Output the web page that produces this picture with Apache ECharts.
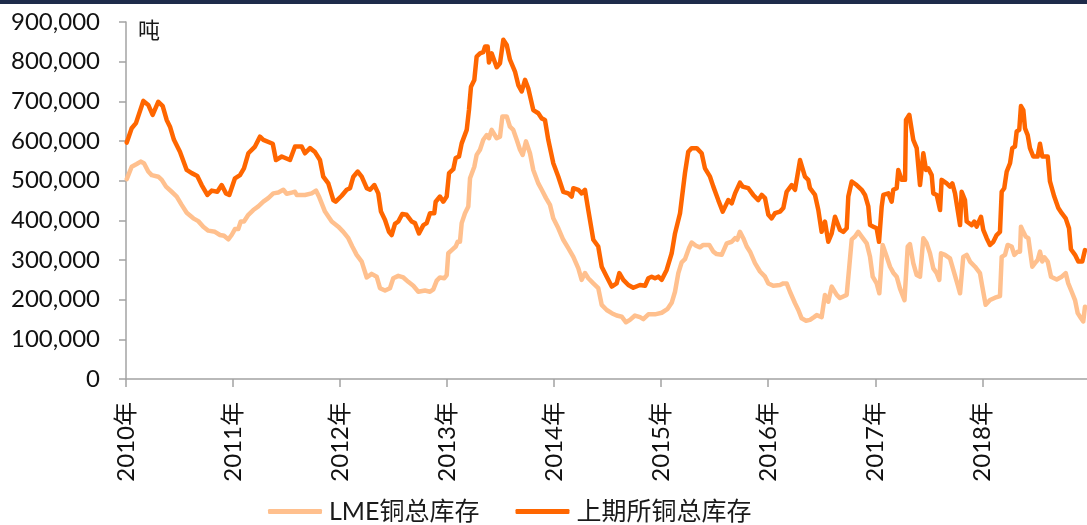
<!DOCTYPE html>
<html>
<head>
<meta charset="utf-8">
<script src="https://cdn.jsdelivr.net/npm/echarts@6/dist/echarts.min.js"></script>
<style>
  html, body { margin: 0; padding: 0; background: #fff; }
  #chart { width: 1087px; height: 525px; }
</style>
</head>
<body>
<div id="chart"></div>
<script>
// Copper inventories, tonnes. X values are decimal years.
const seriesNames = ['LME铜总库存', '上期所铜总库存'];
const yearTicks = [2010, 2011, 2012, 2013, 2014, 2015, 2016, 2017, 2018];
const unitLabel = '吨';

const lmeStock = [
  [2010.007,504000],[2010.053,535000],[2010.100,542000],[2010.137,548000],[2010.168,544000],[2010.208,523000],[2010.240,514000],[2010.302,510000],[2010.334,502000],[2010.374,485000],[2010.427,472000],[2010.474,460000],[2010.520,439000],[2010.567,419000],[2010.629,405000],[2010.675,398000],[2010.722,384000],[2010.769,374000],[2010.831,371000],[2010.878,363000],[2010.916,361000],[2010.956,352000],[2010.987,363000],
  [2011.018,378000],[2011.049,378000],[2011.072,397000],[2011.102,397000],[2011.143,414000],[2011.189,426000],[2011.236,435000],[2011.283,447000],[2011.329,456000],[2011.376,468000],[2011.423,470000],[2011.470,477000],[2011.501,467000],[2011.548,470000],[2011.579,472000],[2011.595,464000],[2011.672,464000],[2011.735,468000],[2011.775,475000],[2011.806,458000],[2011.859,422000],[2011.922,397000],[2011.983,384000],
  [2012.030,371000],[2012.077,355000],[2012.114,334000],[2012.155,313000],[2012.202,296000],[2012.249,256000],[2012.295,265000],[2012.342,258000],[2012.373,229000],[2012.420,223000],[2012.466,229000],[2012.497,254000],[2012.544,260000],[2012.591,256000],[2012.637,245000],[2012.684,235000],[2012.731,220000],[2012.793,223000],[2012.840,220000],[2012.871,226000],[2012.903,248000],[2012.933,256000],[2012.974,254000],[2012.996,262000],
  [2013.011,317000],[2013.043,325000],[2013.080,334000],[2013.099,346000],[2013.120,346000],[2013.136,393000],[2013.167,418000],[2013.198,435000],[2013.214,506000],[2013.254,535000],[2013.276,565000],[2013.307,578000],[2013.338,603000],[2013.370,615000],[2013.391,607000],[2013.416,628000],[2013.463,607000],[2013.494,611000],[2013.516,662000],[2013.557,662000],[2013.587,636000],[2013.618,628000],[2013.650,603000],[2013.681,578000],[2013.706,565000],[2013.737,599000],[2013.774,569000],[2013.805,527000],[2013.852,493000],[2013.884,477000],[2013.924,456000],[2013.961,439000],[2013.992,405000],
  [2014.039,380000],[2014.085,351000],[2014.132,330000],[2014.179,308000],[2014.226,279000],[2014.257,250000],[2014.288,267000],[2014.319,254000],[2014.366,241000],[2014.412,229000],[2014.444,187000],[2014.491,174000],[2014.538,166000],[2014.584,160000],[2014.631,157000],[2014.671,143000],[2014.708,149000],[2014.755,160000],[2014.802,156000],[2014.833,151000],[2014.880,163000],[2014.942,163000],
  [2015.005,167000],[2015.057,176000],[2015.098,192000],[2015.129,220000],[2015.160,267000],[2015.191,294000],[2015.222,302000],[2015.260,330000],[2015.285,344000],[2015.325,336000],[2015.362,332000],[2015.393,338000],[2015.449,338000],[2015.487,321000],[2015.518,315000],[2015.565,313000],[2015.612,342000],[2015.659,346000],[2015.690,355000],[2015.711,351000],[2015.736,371000],[2015.767,355000],[2015.799,334000],[2015.830,321000],[2015.876,292000],[2015.923,271000],[2015.970,258000],
  [2016.001,241000],[2016.047,235000],[2016.110,237000],[2016.141,241000],[2016.172,241000],[2016.203,220000],[2016.250,191000],[2016.281,174000],[2016.312,153000],[2016.353,147000],[2016.390,149000],[2016.428,156000],[2016.453,161000],[2016.499,156000],[2016.530,212000],[2016.561,195000],[2016.593,233000],[2016.640,212000],[2016.670,204000],[2016.701,208000],[2016.733,212000],[2016.757,283000],[2016.780,352000],[2016.811,359000],[2016.841,371000],[2016.873,359000],[2016.920,342000],[2016.951,308000],[2016.976,258000],
  [2017.013,241000],[2017.038,216000],[2017.069,338000],[2017.107,308000],[2017.138,283000],[2017.168,268000],[2017.200,258000],[2017.231,228000],[2017.273,199000],[2017.303,334000],[2017.324,340000],[2017.355,292000],[2017.387,262000],[2017.418,258000],[2017.449,355000],[2017.480,342000],[2017.511,317000],[2017.542,279000],[2017.574,267000],[2017.598,250000],[2017.614,317000],[2017.651,313000],[2017.698,304000],[2017.738,267000],[2017.770,237000],[2017.792,216000],[2017.822,308000],[2017.854,313000],[2017.885,296000],[2017.932,283000],[2017.978,267000],
  [2018.000,233000],[2018.031,187000],[2018.072,199000],[2018.119,205000],[2018.165,209000],[2018.181,308000],[2018.212,313000],[2018.237,338000],[2018.274,334000],[2018.299,313000],[2018.330,321000],[2018.352,321000],[2018.361,384000],[2018.383,371000],[2018.405,359000],[2018.430,355000],[2018.467,283000],[2018.492,292000],[2018.517,300000],[2018.539,321000],[2018.560,296000],[2018.579,307000],[2018.611,296000],[2018.642,258000],[2018.695,251000],[2018.742,258000],[2018.779,267000],[2018.803,241000],[2018.835,220000],[2018.866,199000],[2018.891,166000],[2018.922,153000],[2018.943,145000],[2018.959,182000]
];

const shfeStock = [
  [2010.007,596000],[2010.053,632000],[2010.093,645000],[2010.162,701000],[2010.208,691000],[2010.249,666000],[2010.302,699000],[2010.343,688000],[2010.380,653000],[2010.411,636000],[2010.448,603000],[2010.504,573000],[2010.567,527000],[2010.614,519000],[2010.666,512000],[2010.707,489000],[2010.760,464000],[2010.801,475000],[2010.853,472000],[2010.894,489000],[2010.934,468000],[2010.965,464000],
  [2011.018,506000],[2011.065,514000],[2011.102,531000],[2011.143,569000],[2011.205,586000],[2011.252,611000],[2011.283,603000],[2011.371,593000],[2011.401,552000],[2011.455,561000],[2011.532,552000],[2011.579,586000],[2011.641,586000],[2011.672,569000],[2011.719,582000],[2011.766,572000],[2011.812,552000],[2011.843,510000],[2011.890,493000],[2011.937,451000],[2011.959,447000],
  [2012.015,462000],[2012.062,477000],[2012.093,481000],[2012.124,510000],[2012.165,523000],[2012.202,510000],[2012.249,481000],[2012.280,477000],[2012.320,489000],[2012.357,468000],[2012.382,422000],[2012.420,401000],[2012.457,371000],[2012.482,363000],[2012.513,391000],[2012.544,397000],[2012.581,416000],[2012.622,414000],[2012.669,397000],[2012.700,393000],[2012.737,367000],[2012.778,388000],[2012.809,393000],[2012.840,418000],[2012.880,418000],[2012.893,447000],[2012.933,460000],[2012.964,447000],[2012.996,460000],
  [2013.018,519000],[2013.058,529000],[2013.080,557000],[2013.111,561000],[2013.136,594000],[2013.183,628000],[2013.204,678000],[2013.223,737000],[2013.254,754000],[2013.276,813000],[2013.307,821000],[2013.338,824000],[2013.354,838000],[2013.379,838000],[2013.391,798000],[2013.416,821000],[2013.463,786000],[2013.494,796000],[2013.525,855000],[2013.557,842000],[2013.587,805000],[2013.634,775000],[2013.665,741000],[2013.697,725000],[2013.728,754000],[2013.758,733000],[2013.805,678000],[2013.852,670000],[2013.884,657000],[2013.914,653000],[2013.945,603000],[2013.992,544000],
  [2014.039,510000],[2014.085,472000],[2014.132,468000],[2014.164,460000],[2014.179,481000],[2014.226,477000],[2014.257,468000],[2014.288,477000],[2014.319,426000],[2014.366,351000],[2014.412,334000],[2014.444,283000],[2014.491,258000],[2014.538,233000],[2014.584,241000],[2014.609,267000],[2014.646,250000],[2014.693,237000],[2014.739,230000],[2014.802,237000],[2014.849,235000],[2014.880,254000],[2014.911,258000],[2014.942,254000],[2014.973,258000],
  [2015.005,250000],[2015.051,275000],[2015.098,317000],[2015.129,367000],[2015.176,418000],[2015.191,451000],[2015.222,519000],[2015.253,573000],[2015.285,582000],[2015.332,582000],[2015.378,569000],[2015.409,531000],[2015.456,510000],[2015.487,485000],[2015.533,451000],[2015.575,422000],[2015.627,451000],[2015.659,443000],[2015.690,468000],[2015.736,495000],[2015.761,485000],[2015.814,481000],[2015.860,464000],[2015.907,451000],[2015.939,464000],[2015.970,456000],
  [2016.001,414000],[2016.032,405000],[2016.063,418000],[2016.110,422000],[2016.141,431000],[2016.172,472000],[2016.219,489000],[2016.250,477000],[2016.297,552000],[2016.343,510000],[2016.374,502000],[2016.390,481000],[2016.437,464000],[2016.468,426000],[2016.499,371000],[2016.530,397000],[2016.561,346000],[2016.593,367000],[2016.624,409000],[2016.670,376000],[2016.701,371000],[2016.733,380000],[2016.748,460000],[2016.780,498000],[2016.826,489000],[2016.873,477000],[2016.904,464000],[2016.935,435000],[2016.951,388000],[2016.982,384000],
  [2017.013,380000],[2017.035,346000],[2017.060,435000],[2017.075,464000],[2017.122,468000],[2017.153,447000],[2017.168,477000],[2017.200,481000],[2017.215,527000],[2017.247,502000],[2017.278,502000],[2017.287,653000],[2017.318,666000],[2017.355,603000],[2017.387,582000],[2017.418,489000],[2017.449,569000],[2017.474,527000],[2017.495,531000],[2017.527,514000],[2017.542,468000],[2017.574,464000],[2017.605,426000],[2017.620,502000],[2017.667,493000],[2017.698,485000],[2017.720,493000],[2017.745,468000],[2017.792,388000],[2017.807,472000],[2017.838,451000],[2017.854,397000],[2017.901,388000],[2017.925,397000],[2017.947,384000],[2017.988,409000],
  [2018.009,376000],[2018.041,355000],[2018.072,338000],[2018.103,346000],[2018.134,363000],[2018.165,371000],[2018.181,472000],[2018.205,481000],[2018.228,523000],[2018.259,544000],[2018.280,582000],[2018.305,586000],[2018.321,624000],[2018.345,628000],[2018.361,688000],[2018.383,678000],[2018.399,632000],[2018.424,615000],[2018.445,582000],[2018.476,561000],[2018.517,561000],[2018.539,593000],[2018.560,561000],[2018.611,561000],[2018.632,498000],[2018.672,460000],[2018.710,431000],[2018.742,418000],[2018.779,405000],[2018.810,380000],[2018.828,327000],[2018.866,313000],[2018.897,296000],[2018.934,296000],[2018.959,325000]
];

const FONT = 'Lato, "Noto Sans CJK SC", sans-serif';
const AXIS_GRAY = '#a3a3a3';
const LIGHT = '#FFC08E';
const DARK = '#FF6600';

const chart = echarts.init(document.getElementById('chart'), null, { renderer: 'canvas' });

chart.setOption({
  animation: false,
  backgroundColor: '#ffffff',
  textStyle: { fontFamily: FONT },
  grid: { left: 126, right: 0, top: 22, bottom: 146, containLabel: false, outerBoundsMode: 'none' },
  legend: {
    data: seriesNames,
    left: 268,
    top: 499,
    padding: 0,
    icon: 'roundRect',
    itemWidth: 54,
    itemHeight: 5,
    itemGap: 36,
    textStyle: { fontFamily: FONT, fontSize: 25, color: '#1a1a1a', padding: [0, 0, 0, 2] }
  },
  graphic: [
    { type: 'rect', left: 0, top: 0, shape: { width: 1087, height: 4 }, style: { fill: '#1e2b4a' }, silent: true },
    { type: 'text', left: 138, top: 19, style: { text: unitLabel, font: '22px "Noto Sans CJK SC", sans-serif', fill: '#1a1a1a' }, silent: true }
  ],
  xAxis: {
    type: 'value',
    min: 2010,
    max: 2018.978,
    interval: 1,
    axisLine: { show: true, onZero: false, lineStyle: { color: AXIS_GRAY, width: 1.5 } },
    axisTick: { show: true, inside: false, length: 8, customValues: yearTicks, lineStyle: { color: AXIS_GRAY, width: 1.5 } },
    axisLabel: {
      customValues: yearTicks,
      rotate: 90,
      margin: 23,
      fontSize: 24,
      fontFamily: FONT,
      color: '#111',
      formatter: v => v + '年'
    },
    splitLine: { show: false }
  },
  yAxis: {
    type: 'value',
    min: 0,
    max: 900000,
    interval: 100000,
    axisLine: { show: true, lineStyle: { color: AXIS_GRAY, width: 1.5 } },
    axisTick: { show: true, inside: false, length: 7, lineStyle: { color: AXIS_GRAY, width: 1.5 } },
    axisLabel: {
      margin: 26,
      fontSize: 24,
      fontFamily: FONT,
      color: '#111',
      formatter: v => Number(v).toLocaleString('en-US')
    },
    splitLine: { show: false }
  },
  series: [
    {
      name: seriesNames[0],
      type: 'line',
      data: lmeStock,
      showSymbol: false,
      symbol: 'none',
      color: LIGHT,
      lineStyle: { color: LIGHT, width: 4.5, cap: 'round', join: 'round' }
    },
    {
      name: seriesNames[1],
      type: 'line',
      data: shfeStock,
      showSymbol: false,
      symbol: 'none',
      color: DARK,
      lineStyle: { color: DARK, width: 4.5, cap: 'round', join: 'round' }
    }
  ]
});
</script>
</body>
</html>
